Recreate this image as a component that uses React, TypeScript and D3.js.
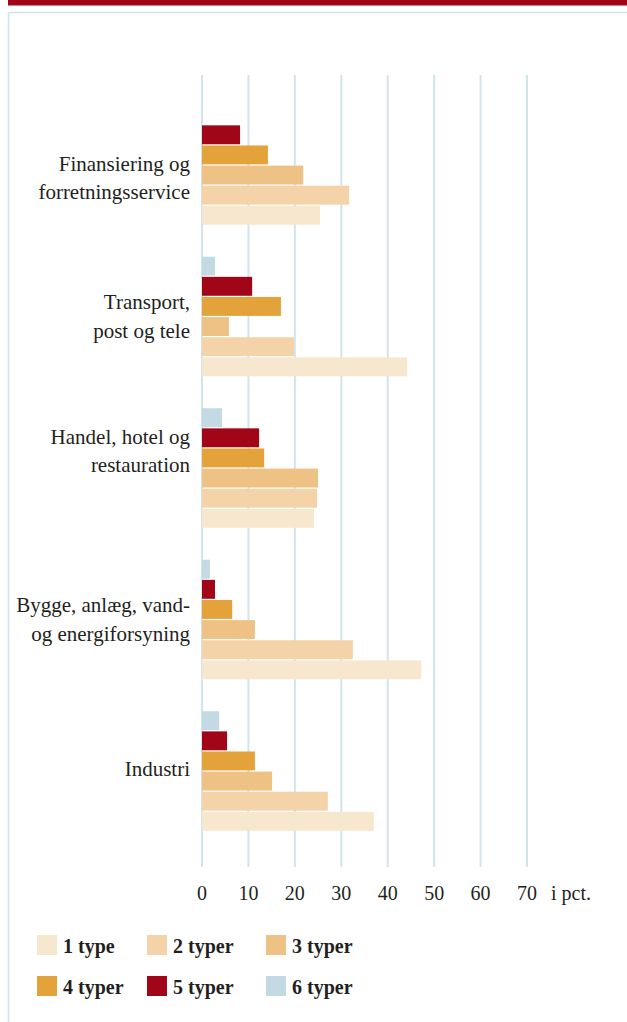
import React from "react";
import * as d3 from "d3";

const categories: string[][] = [
  ["Finansiering og", "forretningsservice"],
  ["Transport,", "post og tele"],
  ["Handel, hotel og", "restauration"],
  ["Bygge, anlæg, vand-", "og energiforsyning"],
  ["Industri"],
];
const categoryKeys = ["Finansiering", "Transport", "Handel", "Bygge", "Industri"];

const seriesNames = ["1 type", "2 typer", "3 typer", "4 typer", "5 typer", "6 typer"];
const seriesColors = ["#F8E7CF", "#F4D3A8", "#EEC285", "#E3A23A", "#A00518", "#C3D9E4"];

// values per category, order: 1 type .. 6 typer
const valFinansiering = [25.4, 31.7, 21.8, 14.2, 8.2, 0];
const valTransport = [44.2, 19.8, 5.8, 17.0, 10.8, 2.8];
const valHandel = [24.1, 24.8, 25.0, 13.4, 12.3, 4.3];
const valBygge = [47.2, 32.5, 11.4, 6.5, 2.8, 1.7];
const valIndustri = [37.0, 27.1, 15.1, 11.4, 5.4, 3.7];
const values = [valFinansiering, valTransport, valHandel, valBygge, valIndustri];

const ticks = [0, 10, 20, 30, 40, 50, 60, 70];
const unitLabel = "i pct.";

const W = 627;
const H = 1022;
const FONT = "'Liberation Serif', 'DejaVu Serif', serif";
const TEXT = "#231F20";
const GRID = "#D3E3EB";
// label vertical nudges (style only)
const labelNudge: Record<string, number> = { Finansiering: 13, Transport: 0, Handel: -17, Bygge: 0, Industri: -2 };

export default function App() {
  const x = d3.scaleLinear().domain([0, 70]).range([202, 527]);
  const y = d3.scaleBand<string>().domain(categoryKeys).range([104, 832]).paddingInner(0.195).paddingOuter(0);
  const inner = d3
    .scaleBand<string>()
    .domain([...seriesNames].reverse())
    .range([0, y.bandwidth()])
    .padding(0.06);

  const legendCols = [37, 147, 266];
  const legendRows = [935, 976];

  return (
    <svg width={W} height={H} style={{ position: "absolute", left: 0, top: 0, display: "block" }} fontFamily={FONT}>
      <rect x={0} y={0} width={W} height={H} fill="#fff" />
      <rect x={8} y={0} width={W - 8} height={5.5} fill="#A00518" />
      <line x1={8.5} x2={W} y1={12.5} y2={12.5} stroke={GRID} strokeWidth={1.5} />
      <line x1={8.5} x2={8.5} y1={12.5} y2={H} stroke={GRID} strokeWidth={1.5} />

      {ticks.map((t) => (
        <g key={t}>
          <line x1={x(t)} x2={x(t)} y1={75} y2={867} stroke={GRID} strokeWidth={2} />
          <text x={x(t)} y={900} textAnchor="middle" fontSize={20} fill={TEXT}>
            {t}
          </text>
        </g>
      ))}
      <text x={551} y={900} fontSize={20} fill={TEXT}>
        {unitLabel}
      </text>

      {categoryKeys.map((c, ci) => {
        const y0 = y(c)!;
        const lines = categories[ci];
        const cy = y0 + y.bandwidth() / 2 + labelNudge[c];
        const lh = 28.5;
        return (
          <g key={c}>
            {values[ci].map((v, si) =>
              v > 0 ? (
                <rect
                  key={si}
                  x={x(0)}
                  y={y0 + inner(seriesNames[si])!}
                  width={x(v) - x(0)}
                  height={inner.bandwidth()}
                  fill={seriesColors[si]}
                />
              ) : null
            )}
            {lines.map((l, li) => (
              <text
                key={li}
                x={190}
                y={cy + (li - (lines.length - 1) / 2) * lh + 7}
                textAnchor="end"
                fontSize={21}
                fill={TEXT}
              >
                {l}
              </text>
            ))}
          </g>
        );
      })}

      {seriesNames.map((s, i) => {
        const col = i % 3;
        const row = Math.floor(i / 3);
        const lx = legendCols[col];
        const ly = legendRows[row];
        return (
          <g key={s}>
            <rect x={lx} y={ly} width={20} height={20} fill={seriesColors[i]} />
            <text x={lx + 26} y={ly + 18} fontSize={20} fontWeight="bold" fill={TEXT}>
              {s}
            </text>
          </g>
        );
      })}
    </svg>
  );
}
